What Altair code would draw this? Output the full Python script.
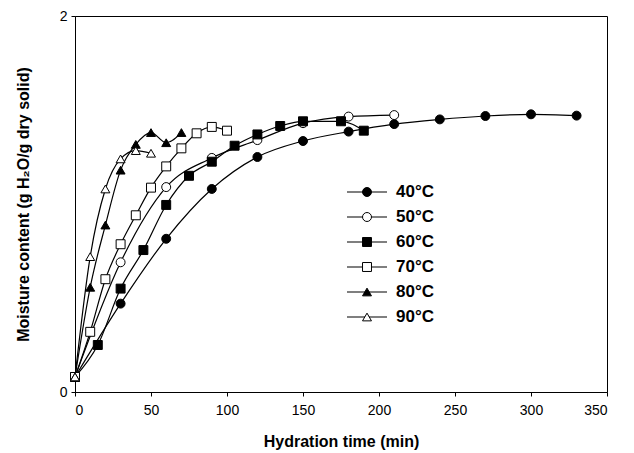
import altair as alt
import pandas as pd

labels = ["40°C", "50°C", "60°C", "70°C", "80°C", "90°C"]

t40 = [0, 30, 60, 90, 120, 150, 180, 210, 240, 270, 300, 330]
m40 = [0.08, 0.47, 0.815, 1.08, 1.25, 1.335, 1.385, 1.425, 1.45, 1.468, 1.477, 1.47]
t50 = [0, 30, 60, 90, 120, 150, 180, 210]
m50 = [0.08, 0.69, 1.09, 1.245, 1.34, 1.43, 1.465, 1.473]
t60 = [0, 15, 30, 45, 60, 75, 90, 105, 120, 135, 150, 175, 190]
m60 = [0.08, 0.25, 0.55, 0.755, 0.995, 1.15, 1.225, 1.31, 1.37, 1.415, 1.44, 1.44, 1.39]
t70 = [0, 10, 20, 30, 40, 50, 60, 70, 80, 90, 100]
m70 = [0.08, 0.32, 0.6, 0.786, 0.94, 1.087, 1.2, 1.296, 1.376, 1.41, 1.39]
t80 = [0, 10, 20, 30, 40, 50, 60, 70]
m80 = [0.08, 0.557, 0.888, 1.18, 1.317, 1.38, 1.326, 1.38]
t90 = [0, 10, 20, 30, 40, 50]
m90 = [0.08, 0.72, 1.08, 1.24, 1.284, 1.27]

shapes = ["circle", "circle", "square", "square", "triangle-up", "triangle-up"]
fills = ["black", "white", "black", "white", "black", "white"]

x_ticks = [0, 50, 100, 150, 200, 250, 300, 350]
y_ticks = [0, 1, 2]

series = [(t40, m40), (t50, m50), (t60, m60), (t70, m70), (t80, m80), (t90, m90)]
rows = []
for lab, (ts, ms) in zip(labels, series):
    for t, m in zip(ts, ms):
        rows.append({"series": lab, "time": t, "moisture": m})
df = pd.DataFrame(rows)
leg_df = pd.DataFrame({"series": labels})

FONT = "Liberation Sans"

xenc = alt.X("time:Q", scale=alt.Scale(domain=[0, 350], nice=False),
             axis=alt.Axis(values=x_ticks, format="d", title="Hydration time (min)",
                           labelPadding=7, titlePadding=16))
yenc = alt.Y("moisture:Q", scale=alt.Scale(domain=[0, 2], nice=False),
             axis=alt.Axis(values=y_ticks, format="d",
                           title="Moisture content (g H₂O/g dry solid)",
                           labelPadding=4, titlePadding=28))

shape_scale = alt.Scale(domain=labels, range=shapes)
fill_scale = alt.Scale(domain=labels, range=fills)

lines = alt.Chart(df).mark_line(color="black", strokeWidth=1.2, interpolate="monotone").encode(
    x=xenc, y=yenc, detail="series:N"
)
points = alt.Chart(df).mark_point(stroke="black", strokeWidth=1, opacity=1, size=80).encode(
    x=xenc, y=yenc,
    shape=alt.Shape("series:N", scale=shape_scale, legend=None),
    fill=alt.Fill("series:N", scale=fill_scale, legend=None),
)
main = alt.layer(lines, points)

ly = alt.Y("series:N", scale=alt.Scale(type="point", domain=labels, range=[176, 301], padding=0), axis=None)
leg_rule = alt.Chart(leg_df).mark_rule(color="black", strokeWidth=1.2).encode(
    x=alt.value(272), x2=alt.value(312), y=ly
)
leg_pts = alt.Chart(leg_df).mark_point(stroke="black", strokeWidth=1, opacity=1, size=80).encode(
    x=alt.value(292), y=ly,
    shape=alt.Shape("series:N", scale=shape_scale, legend=None),
    fill=alt.Fill("series:N", scale=fill_scale, legend=None),
)
leg_text = alt.Chart(leg_df).mark_text(align="left", baseline="middle", font=FONT,
                                       fontSize=17, fontWeight="bold", color="black").encode(
    x=alt.value(321), y=ly, text="series:N"
)
legend = alt.layer(leg_rule, leg_pts, leg_text)

chart = alt.layer(main, legend).resolve_scale(y="independent").properties(
    width=532, height=376,
    autosize=alt.AutoSizeParams(type="none"),
    padding={"left": 67, "top": 8, "right": 12, "bottom": 60},
    background="white",
).configure_view(stroke="black", strokeWidth=1).configure_axis(
    grid=False, domainColor="black", tickColor="black", tickSize=4,
    labelColor="black", labelFont=FONT, labelFontSize=14,
    titleColor="black", titleFont=FONT, titleFontSize=16, titleFontWeight="bold",
)

chart.save("out.html", embed_options={"renderer": "svg", "actions": False})
